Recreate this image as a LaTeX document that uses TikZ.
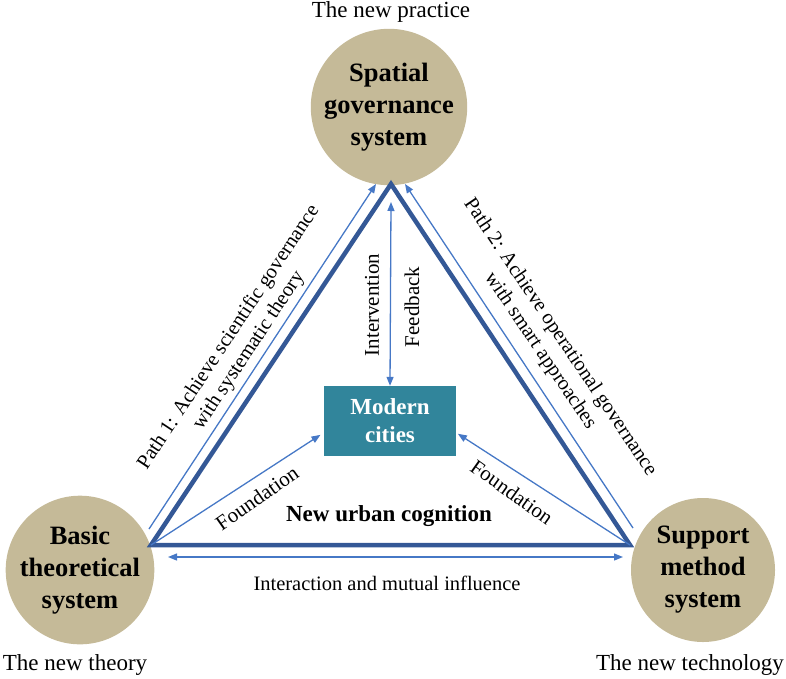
\documentclass[tikz,border=0pt]{standalone}
\usepackage{fontspec}
\setmainfont{Liberation Serif}
\usetikzlibrary{arrows.meta}
\definecolor{tanfill}{RGB}{197,186,152}
\definecolor{thickblue}{RGB}{52,88,150}
\definecolor{thinblue}{RGB}{70,120,198}
\definecolor{tealbox}{RGB}{49,133,155}
\tikzset{
  sysnode/.style={circle, fill=tanfill, minimum size=144pt, inner sep=0pt, align=center,
    font=\fontsize{26.5}{32}\selectfont\bfseries},
  capt/.style={font=\fontsize{23}{27}\selectfont, anchor=base},
  thinarr/.style={draw=thinblue, line width=1.3pt, -{Triangle[length=9pt,width=7pt]}},
  thinarrb/.style={draw=thinblue, line width=1.3pt, {Triangle[length=9pt,width=7pt]}-{Triangle[length=9pt,width=7pt]}},
  pathlbl/.style={font=\fontsize{20.5}{24}\selectfont, align=center},
  smalllbl/.style={font=\fontsize{21}{24}\selectfont},
}
\begin{document}
\begin{tikzpicture}[x=1pt,y=-1pt]
\useasboundingbox (0,0) rectangle (786,678);
% circles
\node[sysnode] (top) at (389,107) {Spatial\\governance\\system};
\node[sysnode] (left) at (80,570) {Basic\\theoretical\\system};
\node[sysnode] (right) at (703,570) {Support\\method\\system};
% captions
\node[capt] (ctop) at (391,17) {The new practice};
\node[capt] (cleft) at (75,670) {The new theory};
\node[capt] (cright) at (690,670) {The new technology};
% box
\node[fill=tealbox, minimum width=132pt, minimum height=70pt, inner sep=0pt, align=center,
  text=white, font=\fontsize{23}{28}\selectfont\bfseries] (mc) at (390,421) {Modern\\cities};
% triangle vertices
\coordinate (T) at (391,184);
\coordinate (L) at (151,545);
\coordinate (R) at (630,545);
\draw[thickblue, line width=4.5pt, line join=miter] (T) -- (L) -- (R) -- cycle;
% path arrows
\coordinate (p1s) at (149,529);
\coordinate (p1e) at (376,184);
\coordinate (p2s) at (633,528);
\coordinate (p2e) at (405,184);
\draw[thinarr] (p1s) -- (p1e);
\draw[thinarr] (p2s) -- (p2e);
% intervention / feedback
\coordinate (ivtop) at (391,202);
\draw[thinarrb] (ivtop) -- (mc.north);
% foundation arrows
\draw[thinarr, shorten >=4pt] (L) -- (mc.190);
\draw[thinarr, shorten >=2pt] (R) -- (mc.-10);
% bottom interaction arrow
\coordinate (b1) at (168,557);
\coordinate (b2) at (623,557);
\draw[thinarrb] (b1) -- (b2);
% labels
\node[pathlbl, rotate=56.5] (lp1) at (239,344) {Path 1: Achieve scientific governance\\with systematic theory};
\node[pathlbl, rotate=-56] (lp2) at (550,344) {Path 2: Achieve operational governance\\with smart approaches};
\node[smalllbl, rotate=90] (liv) at (372,305) {Intervention};
\node[smalllbl, rotate=90] (lfb) at (412,307) {Feedback};
\node[smalllbl, rotate=35] (lf1) at (257,498) {Foundation};
\node[smalllbl, rotate=-35.5] (lf2) at (512,492) {Foundation};
\node[font=\fontsize{23}{27}\selectfont\bfseries] (nuc) at (389,516) {New urban cognition};
\node[font=\fontsize{20.5}{24}\selectfont] (inter) at (387,583) {Interaction and mutual influence};
\end{tikzpicture}
\end{document}
